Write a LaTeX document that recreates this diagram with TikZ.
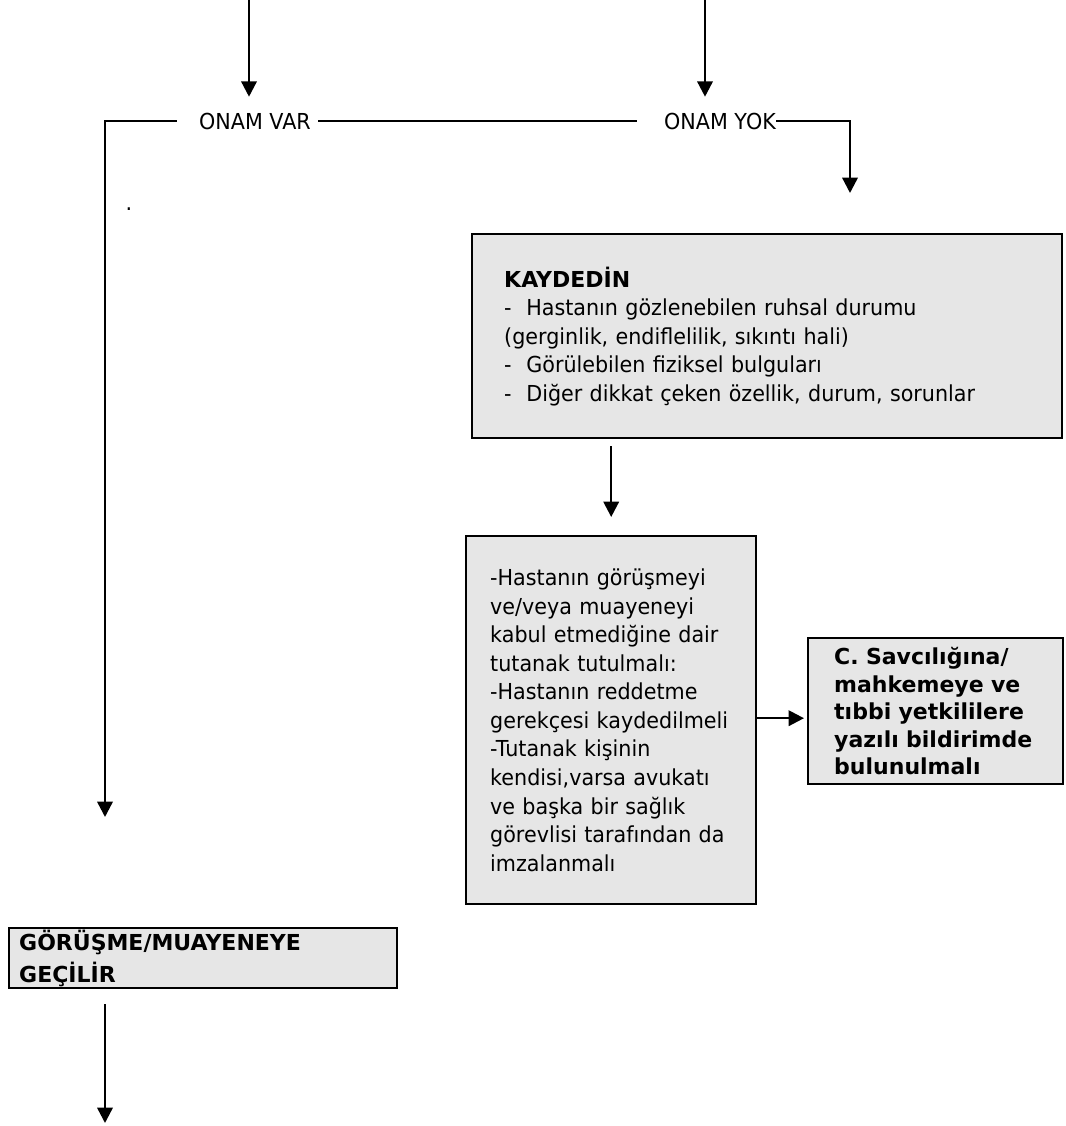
\documentclass[tikz,border=0pt]{standalone}
\usepackage{fontspec}
\setmainfont{DejaVu Sans}[FakeStretch=0.94,BoldFeatures={FakeStretch=1.0}]
\usetikzlibrary{arrows.meta,positioning}
\definecolor{boxgray}{HTML}{E6E6E6}

\begin{document}
\begin{tikzpicture}[x=0.75pt, y=-0.75pt, >={Triangle[length=11.5pt,width=11.5pt]}, font=\fontsize{16.5pt}{21.4pt}\selectfont, box/.style={draw, line width=1.8pt, fill=boxgray, inner ysep=0pt, align=left, anchor=north west}, lbl/.style={inner sep=0pt, minimum height=36pt}, conn/.style={line width=1.8pt}]
\useasboundingbox (0,0) rectangle (1065,1126);
\node[lbl] (var) at (255,121) {ONAM VAR};
\node[lbl] (yok) at (720,121) {ONAM YOK};
\node[inner sep=0pt] (dot) at (129,209) {.};
\node[box, inner xsep=24pt, text width=394.5pt, minimum height=153pt] (kayit) at (471,233) {\textbf{KAYDEDİN}\\-\ \ Hastanın gözlenebilen ruhsal durumu\\(gerginlik, endiflelilik, sıkıntı hali)\\-\ \ Görülebilen fiziksel bulguları\\-\ \ Diğer dikkat çeken özellik, durum, sorunlar};
\node[box, inner xsep=18pt, text width=181.5pt, minimum height=276pt] (tutanak) at (465,535) {-Hastanın görüşmeyi\\ve/veya muayeneyi\\kabul etmediğine dair\\tutanak tutulmalı:\\-Hastanın reddetme\\gerekçesi kaydedilmeli\\-Tutanak kişinin\\kendisi,varsa avukatı\\ve başka bir sağlık\\görevlisi tarafından da\\imzalanmalı};
\node[box, inner xsep=19.5pt, text width=152.25pt, minimum height=109.5pt, font=\fontsize{16.5pt}{20.6pt}\selectfont\bfseries] (cbox) at (807,637) {C. Savcılığına/\\mahkemeye ve\\tıbbi yetkililere\\yazılı bildirimde\\bulunulmalı};
\node[box, inner xsep=7.5pt, text width=276pt, minimum height=45pt, font=\fontsize{16.5pt}{24pt}\selectfont\bfseries] (gorusme) at (8,927) {GÖRÜŞME/MUAYENEYE\\GEÇİLİR};
\coordinate (inl) at (249,0);
\coordinate (inr) at (705,0);
\coordinate (varend) at (105,817);
\coordinate (yokend) at (850,193);
\coordinate (cin) at ([yshift=-5.25pt]cbox.west);
\coordinate (out) at (105,1123);
\draw[conn, ->] (inl) -- (inl |- var.north);
\draw[conn, ->] (inr) -- (inr |- yok.north);
\draw[conn, ->] ([xshift=-16.5pt]var.west) -| (varend);
\draw[conn] ([xshift=5.25pt]var.east) -- ([xshift=-20.25pt]yok.west);
\draw[conn, ->] (yok.east) -| (yokend);
\draw[conn, ->, shorten <=5.25pt, shorten >=13.5pt] (tutanak.north |- kayit.south) -- (tutanak.north);
\draw[conn, ->, shorten >=2.25pt] (cin -| tutanak.east) -- (cin);
\draw[conn, ->, shorten <=11.25pt] (out |- gorusme.south) -- (out);
\end{tikzpicture}
\end{document}
